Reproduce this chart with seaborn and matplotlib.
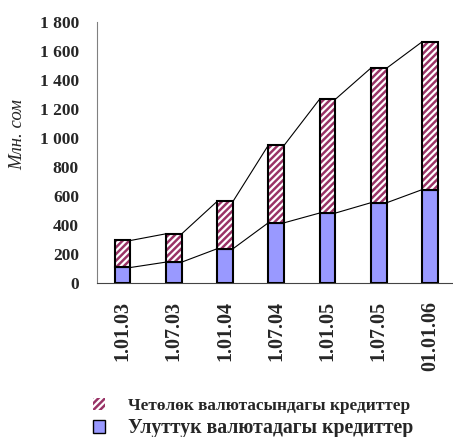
import numpy as np
import pandas as pd
import matplotlib.pyplot as plt
import seaborn as sns
from matplotlib.patches import Patch
from matplotlib.ticker import FuncFormatter

dates = ['1.01.03', '1.07.03', '1.01.04', '1.07.04', '1.01.05', '1.07.05', '01.01.06']
national = [108, 145, 237, 416, 483, 554, 644]
foreign = [186, 195, 326, 534, 784, 927, 1018]
labels = ['Четөлөк валютасындагы кредиттер', 'Улуттук валютадагы кредиттер']

sns.set_style('white')
plt.rcParams['font.family'] = ['Liberation Serif', 'DejaVu Serif']
plt.rcParams['hatch.linewidth'] = 1.6

df = pd.DataFrame({'date': dates, 'national': national, 'foreign': foreign})
df['total'] = df['national'] + df['foreign']

fig = plt.figure(figsize=(4.53, 4.37), dpi=100)
ax = fig.add_axes([0.214, 0.352, 0.786, 0.598])

w = 0.31
blue = '#9999ff'
red = '#993366'
sns.barplot(data=df, x='date', y='national', color=blue, width=w,
            edgecolor='black', linewidth=1.5, saturation=1, ax=ax, zorder=3)
x = np.arange(len(df))
ax.bar(x, df['foreign'], bottom=df['national'], width=w, color=red,
       edgecolor='white', hatch='/////', linewidth=0, zorder=3)
ax.bar(x, df['foreign'], bottom=df['national'], width=w, fill=False,
       edgecolor='black', linewidth=1.5, zorder=4)

# series lines between bars
for col in ['national', 'total']:
    v = df[col].values
    for i in range(len(v) - 1):
        ax.plot([x[i] + w / 2, x[i + 1] - w / 2], [v[i], v[i + 1]],
                color='black', lw=0.8, zorder=2)

ax.set_ylim(0, 1800)
ax.set_xlim(-0.5, 6.45)
ax.set_yticks(range(0, 1801, 200))
ax.yaxis.set_major_formatter(FuncFormatter(lambda v, p: f'{int(v):,}'.replace(',', ' ')))
ax.set_xticks(x)
ax.set_xticklabels(dates, rotation=90, fontweight='bold', fontsize=14.5)
ax.set_xticks(x[:-1] + 0.5, minor=True)
ax.tick_params(axis='x', which='major', length=0, pad=13)
ax.tick_params(axis='x', which='minor', length=5, width=1, color='#555555', direction='out')
ax.tick_params(axis='y', length=5, width=1, color='#555555', direction='out', labelsize=12.5, pad=8)
for t in ax.get_yticklabels():
    t.set_fontweight('bold')
ax.set_xlabel('')
ax.set_ylabel('Млн. сом', fontstyle='italic', fontsize=13.5)
ax.yaxis.set_label_coords(-0.2, 0.568)
sns.despine(ax=ax)
ax.spines['left'].set_color('#808080')
ax.spines['bottom'].set_color('#444444')

handles = [Patch(facecolor=red, edgecolor='white', hatch='/////', linewidth=0),
           Patch(facecolor=blue, edgecolor='black', linewidth=1)]
leg = fig.legend(handles, labels, loc='upper left', bbox_to_anchor=(0.17, 0.125),
                 frameon=False, handlelength=0.75, handleheight=0.75, handletextpad=1.3,
                 labelspacing=0.2, prop={'weight': 'bold', 'size': 12.4})
leg.get_texts()[1].set_fontsize(14.2)

fig.savefig('out.png', dpi=100)
